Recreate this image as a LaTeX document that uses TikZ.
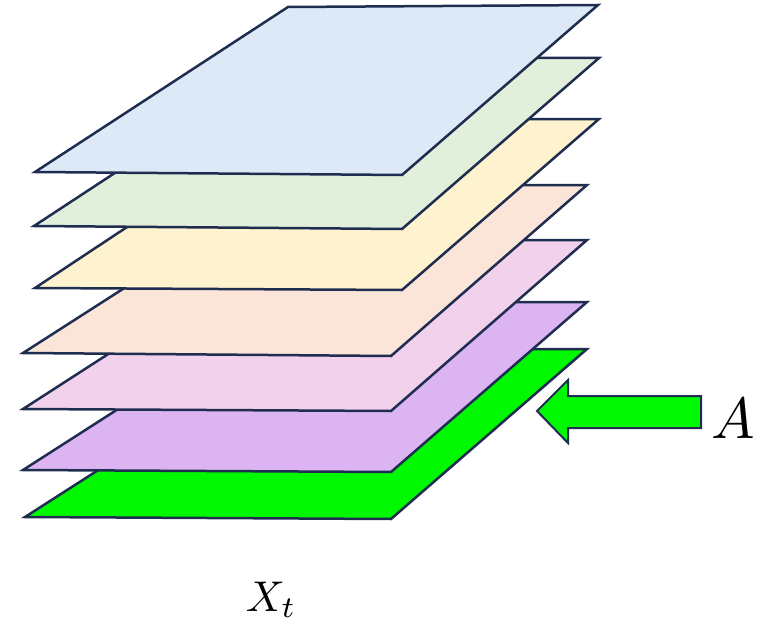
\documentclass[tikz,border=0pt]{standalone}
\usetikzlibrary{calc}
\definecolor{edge}{RGB}{31,45,80}
\definecolor{lblue}{RGB}{221,233,246}
\definecolor{lgreen}{RGB}{226,239,218}
\definecolor{lyellow}{RGB}{255,242,206}
\definecolor{lpeach}{RGB}{250,229,216}
\definecolor{lpink}{RGB}{242,209,236}
\definecolor{lpurple}{RGB}{221,180,242}
\definecolor{bgreen}{RGB}{0,248,0}
\tikzset{
  layer/.style={draw=edge, line width=2.5pt, line join=miter},
  inarrow/.style={draw=edge, line width=2pt, fill=bgreen, line join=miter},
  lbl/.style={inner sep=0pt, text=black}
}
\begin{document}
\begin{tikzpicture}[x=1pt,y=-1pt]
\path[use as bounding box] (0,0) rectangle (769,626);
% layers from bottom to top
\path[layer, fill=bgreen]  (25,517) -- (287,349) -- (587,349) -- (391,519) -- cycle;
\path[layer, fill=lpurple] (23,470) -- (285,302) -- (587,302) -- (391,472) -- cycle;
\path[layer, fill=lpink]   (23,409) -- (285,240) -- (587,240) -- (391,411) -- cycle;
\path[layer, fill=lpeach]  (23,353) -- (285,185) -- (587,185) -- (391,356) -- cycle;
\path[layer, fill=lyellow] (35,288) -- (290,119) -- (599,119) -- (402,290) -- cycle;
\path[layer, fill=lgreen]  (34,226) -- (290,58)  -- (599,58)  -- (402,229) -- cycle;
\path[layer, fill=lblue]   (35,172) -- (288,7)   -- (598,5)   -- (402,175) -- cycle;
% input arrow
\coordinate (tip) at (537,411);
\path[inarrow] (tip) -- (568,380) -- (568,396) -- (701,396) -- (701,428) -- (568,428) -- (568,443) -- cycle;
% labels
\node[lbl, anchor=base west, scale=5.8] (A) at (710,438) {$A$};
\node[lbl, anchor=base west, scale=4.3] (X) at (245,611) {$X_t$};
\end{tikzpicture}
\end{document}
